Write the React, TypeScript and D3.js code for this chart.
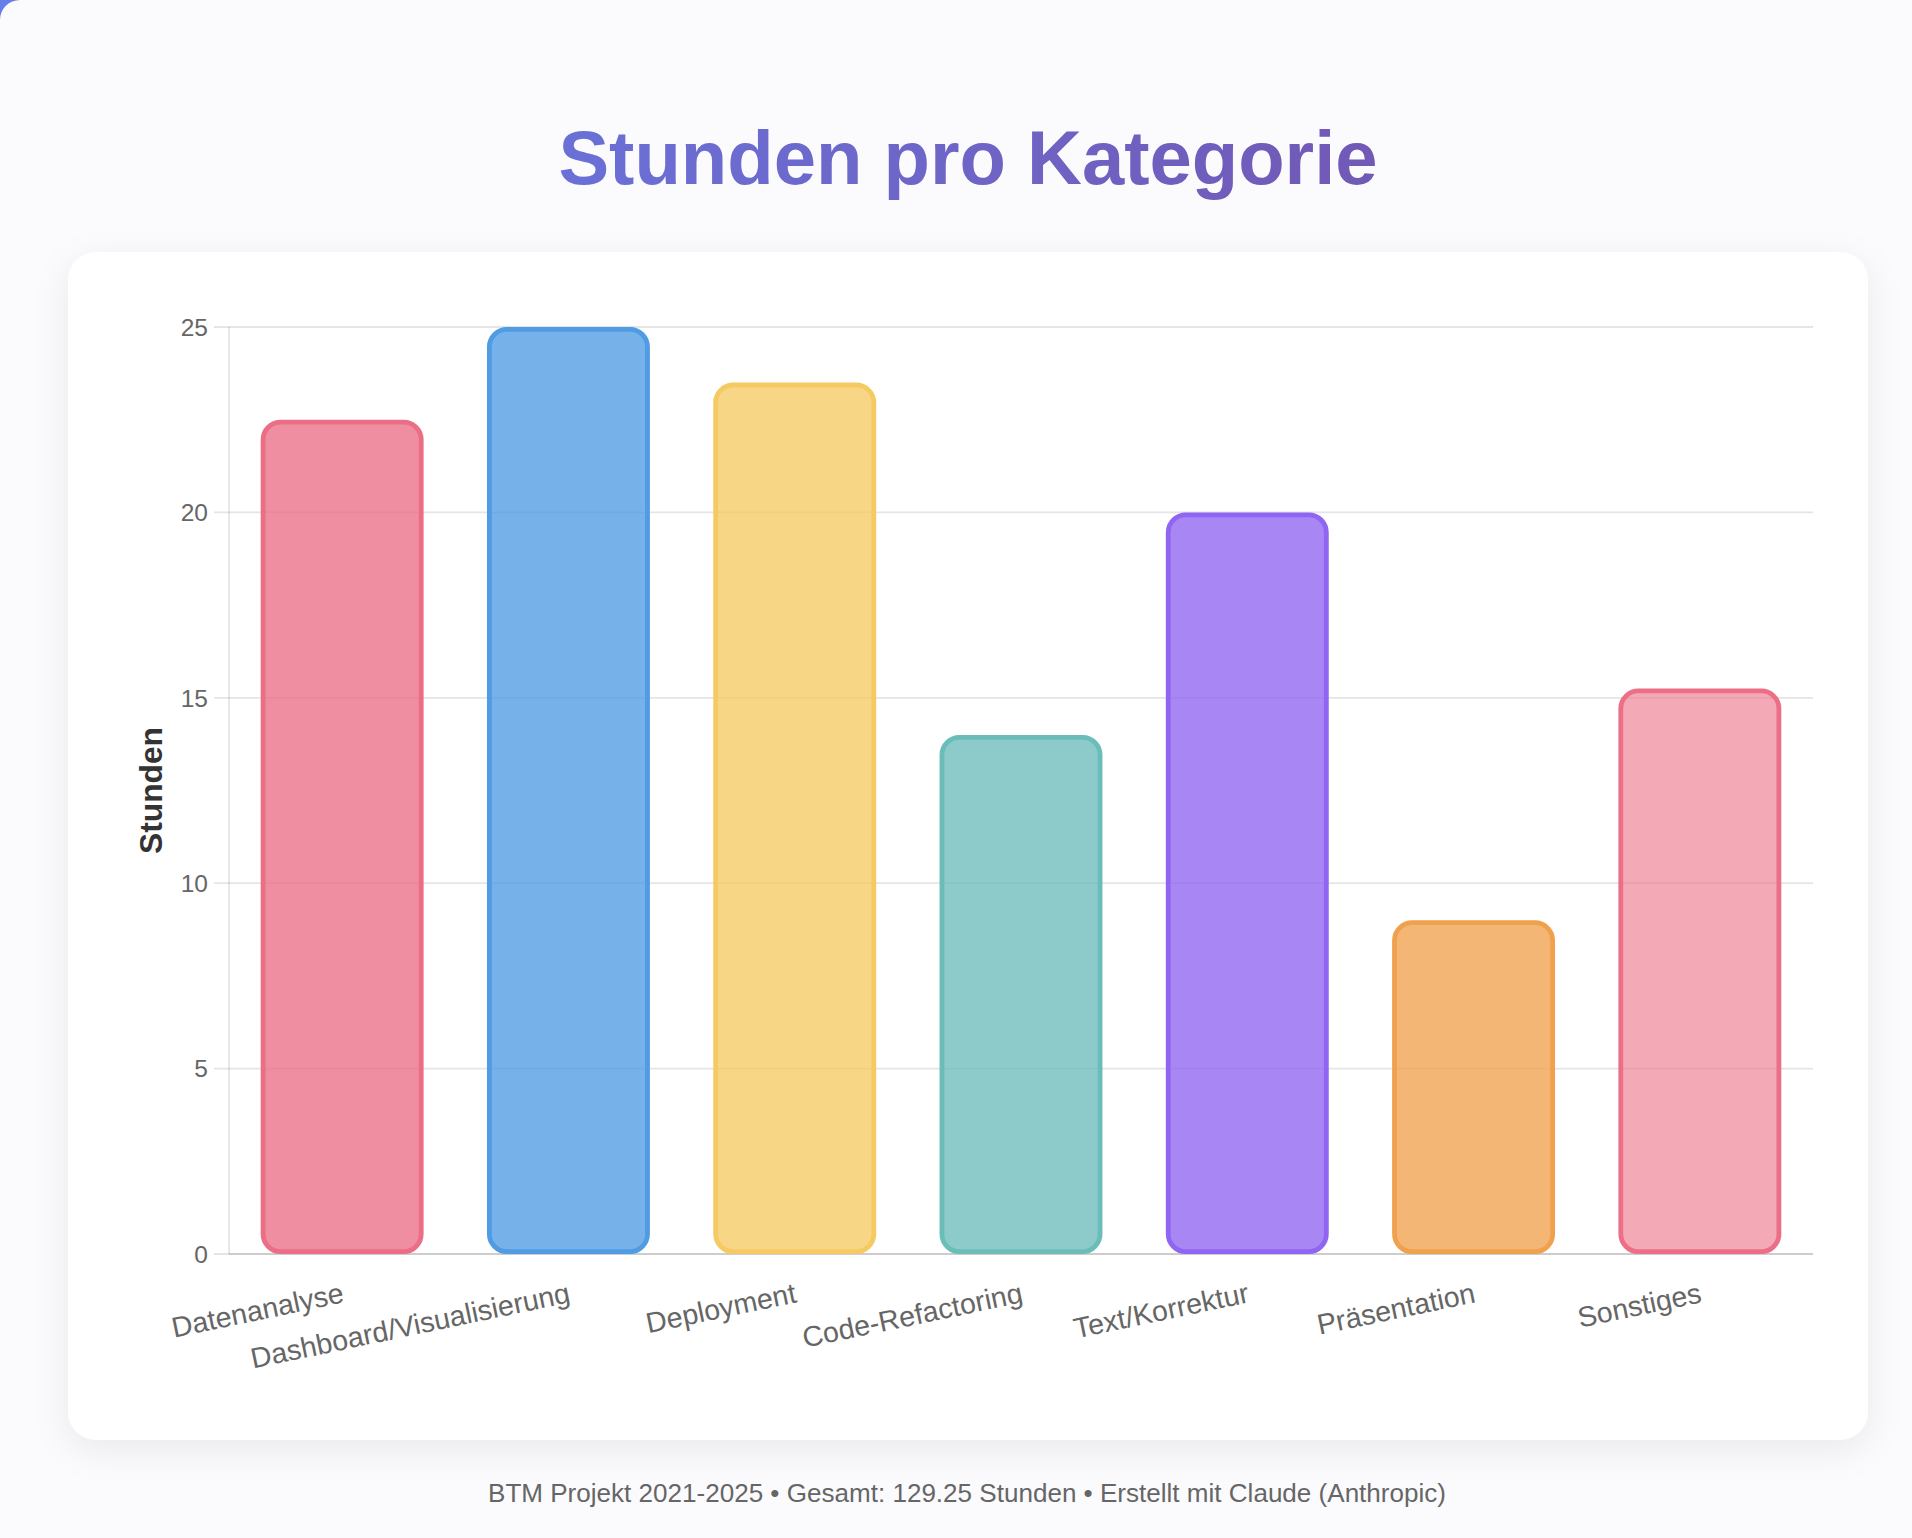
import React from "react";
import * as d3 from "d3";

const categories = [
  "Datenanalyse",
  "Dashboard/Visualisierung",
  "Deployment",
  "Code-Refactoring",
  "Text/Korrektur",
  "Präsentation",
  "Sonstiges",
];
const hours = [22.5, 25, 23.5, 14, 20, 9, 15.25];
const borderColors = ["#EC6E86", "#4F9BE4", "#F5CA63", "#6BBDBA", "#8F65F1", "#F0A14E", "#EC6F87"];
const fillOpacity = [0.78, 0.78, 0.78, 0.78, 0.78, 0.78, 0.6];
const yTicks = [0, 5, 10, 15, 20, 25];
const titleText = "Stunden pro Kategorie";
const yTitle = "Stunden";
const footerText = "BTM Projekt 2021-2025 • Gesamt: 129.25 Stunden • Erstellt mit Claude (Anthropic)";

const W = 1912;
const H = 1538;

function roundedRectPath(x: number, y: number, w: number, h: number, r: number) {
  const rr = Math.min(r, w / 2, h / 2);
  const p = d3.path();
  p.moveTo(x + rr, y);
  p.lineTo(x + w - rr, y);
  p.arcTo(x + w, y, x + w, y + rr, rr);
  p.lineTo(x + w, y + h - rr);
  p.arcTo(x + w, y + h, x + w - rr, y + h, rr);
  p.lineTo(x + rr, y + h);
  p.arcTo(x, y + h, x, y + h - rr, rr);
  p.lineTo(x, y + rr);
  p.arcTo(x, y, x + rr, y, rr);
  p.closePath();
  return p.toString();
}

export default function App() {
  const plotLeft = 229;
  const plotRight = 1813;
  const x = d3.scaleBand<string>().domain(categories).range([plotLeft, plotRight]).paddingInner(0).paddingOuter(0);
  const y = d3.scaleLinear().domain([0, 25]).range([1254, 327]);
  const barW = x.bandwidth() * 0.72;
  const bw = 4.8;
  const radius = 20;
  const sans = "'Liberation Sans', Arial, Helvetica, sans-serif";

  return (
    <div style={{ position: "absolute", left: 0, top: 0, width: W, height: H }}>
      <svg width={W} height={H} style={{ display: "block" }}>
        <defs>
          <linearGradient id="titleGrad" gradientUnits="userSpaceOnUse" x1={68} y1={0} x2={1868} y2={0}>
            <stop offset="0%" stopColor="#667eea" />
            <stop offset="100%" stopColor="#764ba2" />
          </linearGradient>
          <filter id="cardShadow" x="-10%" y="-10%" width="120%" height="125%">
            <feDropShadow dx="0" dy="10" stdDeviation="18" floodColor="#000" floodOpacity="0.07" />
          </filter>
        </defs>
        <rect x={0} y={0} width={W} height={H} fill="#fbfbfe" />
        <path d="M0,0 L20,0 A20,20 0 0 0 0,20 Z" fill="#667eea" />

        <text
          x={968}
          y={184}
          textAnchor="middle"
          fontFamily={sans}
          fontWeight="bold"
          fontSize={76}
          fill="url(#titleGrad)"
        >
          {titleText}
        </text>

        <rect x={68} y={252} width={1800} height={1188} rx={28} ry={28} fill="#ffffff" filter="url(#cardShadow)" />

        {yTicks.map((t) => (
          <line
            key={"g" + t}
            x1={plotLeft - 15}
            x2={plotRight}
            y1={y(t)}
            y2={y(t)}
            stroke="rgba(0,0,0,0.1)"
            strokeWidth={1.8}
          />
        ))}
        <line x1={plotLeft} x2={plotLeft} y1={y(25)} y2={y(0)} stroke="rgba(0,0,0,0.1)" strokeWidth={1.8} />
        <line x1={plotLeft} x2={plotRight} y1={y(0)} y2={y(0)} stroke="rgba(0,0,0,0.1)" strokeWidth={1.8} />

        {yTicks.map((t) => (
          <text
            key={"t" + t}
            x={208}
            y={y(t) + 8.8}
            textAnchor="end"
            fontFamily={sans}
            fontSize={24.5}
            fill="#666"
          >
            {t}
          </text>
        ))}

        {categories.map((c, i) => {
          const cx = (x(c) as number) + x.bandwidth() / 2;
          const x0 = cx - barW / 2;
          const top = y(hours[i]);
          const bottom = y(0);
          const h = bottom - top;
          return (
            <g key={"b" + i}>
              <path
                d={roundedRectPath(x0 + bw / 2, top + bw / 2, barW - bw, h - bw, radius - bw / 2)}
                fill={borderColors[i]}
                fillOpacity={fillOpacity[i]}
                stroke={borderColors[i]}
                strokeWidth={bw}
              />
            </g>
          );
        })}

        {categories.map((c, i) => {
          const cx = (x(c) as number) + x.bandwidth() / 2;
          return (
            <text
              key={"l" + i}
              transform={`translate(${cx + 3},1302) rotate(-11.8)`}
              textAnchor="end"
              fontFamily={sans}
              fontSize={28.6}
              fill="#666"
            >
              {c}
            </text>
          );
        })}

        <text
          transform={`translate(162,${(y(0) + y(25)) / 2}) rotate(-90)`}
          textAnchor="middle"
          fontFamily={sans}
          fontWeight="bold"
          fontSize={31.7}
          fill="#333"
        >
          {yTitle}
        </text>

        <text
          x={967}
          y={1502}
          textAnchor="middle"
          fontFamily={sans}
          fontSize={25}
          fill="#666"
          textLength={958}
          lengthAdjust="spacingAndGlyphs"
        >
          {footerText}
        </text>
      </svg>
    </div>
  );
}
